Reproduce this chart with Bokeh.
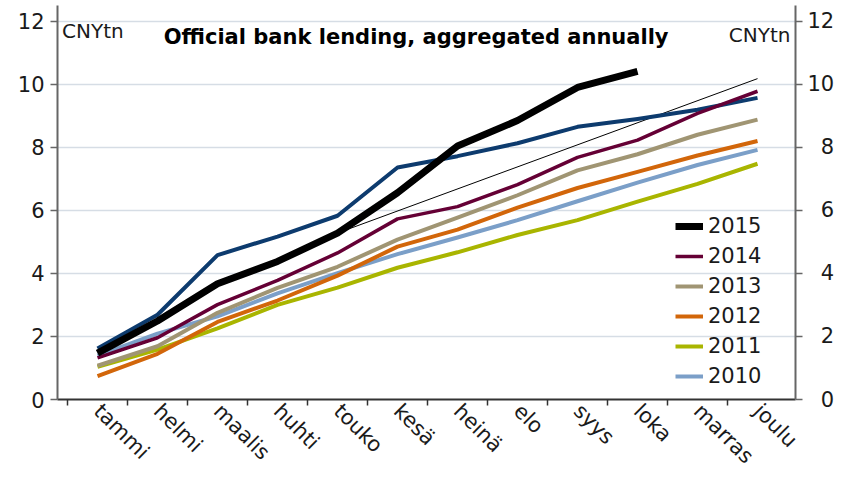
import math
from bokeh.plotting import figure
from bokeh.models import (LinearAxis, FixedTicker, Range1d, Legend, LegendItem, Label)
from bokeh.embed import file_html
from bokeh.resources import INLINE

# ---------------- data ----------------
months = ["tammi", "helmi", "maalis", "huhti", "touko", "kesä",
          "heinä", "elo", "syys", "loka", "marras", "joulu"]
y2015 = [1.47, 2.49, 3.67, 4.38, 5.28, 6.56, 8.04, 8.85, 9.90, 10.41]
y2014 = [1.32, 1.96, 3.01, 3.78, 4.65, 5.73, 6.12, 6.82, 7.68, 8.23, 9.08, 9.78]
y2013 = [1.07, 1.69, 2.75, 3.54, 4.21, 5.07, 5.77, 6.48, 7.27, 7.78, 8.40, 8.88]
y2012 = [0.74, 1.45, 2.46, 3.14, 3.93, 4.85, 5.39, 6.09, 6.71, 7.22, 7.74, 8.20]
y2011 = [1.04, 1.58, 2.26, 3.00, 3.55, 4.18, 4.67, 5.22, 5.69, 6.28, 6.84, 7.48]
y2010 = [1.39, 2.09, 2.64, 3.37, 4.01, 4.61, 5.14, 5.69, 6.29, 6.88, 7.44, 7.92]
y2009 = [1.62, 2.69, 4.58, 5.17, 5.83, 7.36, 7.72, 8.13, 8.65, 8.90, 9.19, 9.57]
trend_months = ["touko", "joulu"]
trend_vals = [5.28, 10.18]
years = ["2015", "2014", "2013", "2012", "2011", "2010", "2009"]
yticks = [0, 2, 4, 6, 8, 10, 12]
title_text = "Official bank lending, aggregated annually"
unit_text = "CNYtn"

FONT = "DejaVu Sans"
TXT = "#1a1a1a"
FS = "21px"

p = figure(width=846, height=479, output_backend="svg", toolbar_location=None,
           x_range=Range1d(-0.667, 11.633), y_range=Range1d(0, 12.5),
           min_border_left=57, min_border_right=51, min_border_top=5,
           min_border_bottom=76)
p.outline_line_color = None
p.xgrid.visible = False
p.ygrid.ticker = FixedTicker(ticks=yticks)
p.ygrid.grid_line_color = "#d6dde5"
p.ygrid.grid_line_width = 1.5

# x axis: labels at month centres, ticks at month boundaries
xa = p.xaxis[0]
xa.ticker = FixedTicker(ticks=list(range(len(months))),
                        minor_ticks=[i - 0.5 for i in range(len(months))])
xa.major_label_overrides = {i: m for i, m in enumerate(months)}
xa.major_tick_out = 0
xa.major_tick_in = 0
xa.minor_tick_out = 6
xa.minor_tick_in = 0
xa.minor_tick_line_color = "#333333"
xa.minor_tick_line_width = 1.5
xa.axis_line_color = "#333333"
xa.axis_line_width = 2
xa.major_label_orientation = -math.pi / 4
xa.major_label_text_font = FONT
xa.major_label_text_font_size = FS
xa.major_label_text_color = TXT
xa.major_label_standoff = 2

def style_y(ax):
    ax.ticker = FixedTicker(ticks=yticks)
    ax.minor_tick_line_color = None
    ax.major_tick_out = 7
    ax.major_tick_in = 0
    ax.major_tick_line_color = "#666666"
    ax.major_tick_line_width = 1.5
    ax.axis_line_color = "#666666"
    ax.axis_line_width = 2
    ax.major_label_text_font = FONT
    ax.major_label_text_font_size = FS
    ax.major_label_text_color = TXT

ya = p.yaxis[0]
style_y(ya)
ya.major_label_standoff = 6
ra = LinearAxis()
style_y(ra)
ra.major_label_standoff = 5
ra.major_label_overrides = {t: ("\u2007" + str(t) if t < 10 else str(t)) for t in yticks}
p.add_layout(ra, "right")

idx = {m: i for i, m in enumerate(months)}

# thin trend line
p.line([idx[m] for m in trend_months], trend_vals, line_color="black", line_width=1)

series = [
    ("2009", y2009, "#0d3b6e", 4),
    ("2010", y2010, "#7b9fc8", 4),
    ("2011", y2011, "#a9b500", 4),
    ("2012", y2012, "#d2660a", 4),
    ("2013", y2013, "#a09573", 4),
    ("2014", y2014, "#650035", 3.5),
    ("2015", y2015, "#000000", 7),
]
rend = {}
for name, vals, col, w in series:
    xs = list(range(len(vals)))
    rend[name] = p.line(xs, vals, line_color=col, line_width=w,
                        line_join="round", line_cap="butt")

legend = Legend(items=[LegendItem(label=y, renderers=[rend[y]]) for y in years[:6]],
                location=(618, 11))
legend.label_text_font = FONT
legend.label_text_font_size = FS
legend.label_text_color = TXT
legend.glyph_width = 28
legend.glyph_height = 20
legend.label_standoff = 5
legend.spacing = 6
legend.padding = 0
legend.margin = 0
legend.border_line_alpha = 0
legend.background_fill_alpha = 0
p.add_layout(legend)

p.add_layout(Label(x=5.31, y=11.50, text=title_text, text_font=FONT,
                   text_font_size="21px", text_font_style="bold",
                   text_align="center", text_baseline="alphabetic",
                   text_color="black"))
p.add_layout(Label(x=-0.59, y=11.68, text=unit_text, text_font=FONT,
                   text_font_size="20px", text_align="left",
                   text_baseline="alphabetic", text_color=TXT))
p.add_layout(Label(x=11.55, y=11.56, text=unit_text, text_font=FONT,
                   text_font_size="20px", text_align="right",
                   text_baseline="alphabetic", text_color=TXT))

open("out.html", "w").write(file_html(p, INLINE))
